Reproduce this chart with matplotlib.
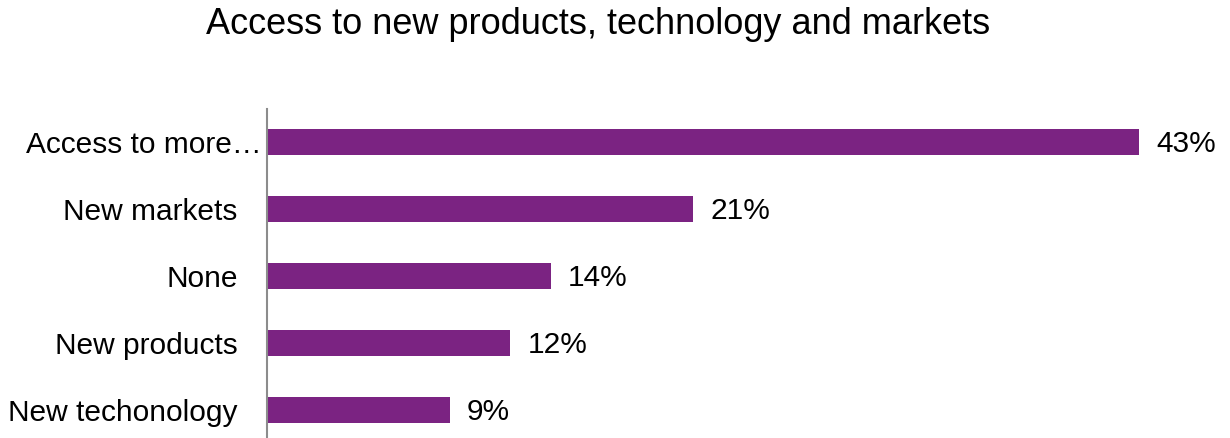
import matplotlib
matplotlib.use("Agg")
import matplotlib.pyplot as plt
import matplotlib.transforms as mtransforms

categories = ["Access to more\u2026", "New markets", "None", "New products", "New techonology"]
values = [43, 21, 14, 12, 9]
labels = ["43%", "21%", "14%", "12%", "9%"]
title = "Access to new products, technology and markets"

BAR = "#7B2382"
plt.rcParams["font.family"] = ["Liberation Sans", "DejaVu Sans"]

fig = plt.figure(figsize=(12.3, 4.38), dpi=100)
ax = fig.add_axes([267 / 1230, -5.5 / 438, 912.6 / 1230, 335 / 438])

y = list(range(len(categories)))
ax.barh(y, values, height=0.4, color=BAR)
for yi, v, t in zip(y, values, labels):
    ax.text(v + 0.85, yi + 0.03, t, va="center", ha="left", fontsize=21.5, color="black")

ax.set_ylim(len(categories) - 0.5, -0.5)
ax.set_xlim(0, 45)
ax.set_yticks(y)
ax.set_yticklabels(categories, fontsize=21.5)
ax.tick_params(axis="y", length=0, pad=21)
ax.set_xticks([])
for s in ["top", "right", "bottom"]:
    ax.spines[s].set_visible(False)
ax.spines["left"].set_color("#8c8c8c")
ax.spines["left"].set_linewidth(1.5)

# first label sits closer to the axis in the original (truncated label)
lab0 = ax.get_yticklabels()[0]
lab0.set_transform(lab0.get_transform() + mtransforms.ScaledTranslation(24 / 100, 0, fig.dpi_scale_trans))

fig.text(598 / 1230, 1 - 24 / 438, title, ha="center", va="center", fontsize=26)

fig.savefig("out.png", dpi=100)
